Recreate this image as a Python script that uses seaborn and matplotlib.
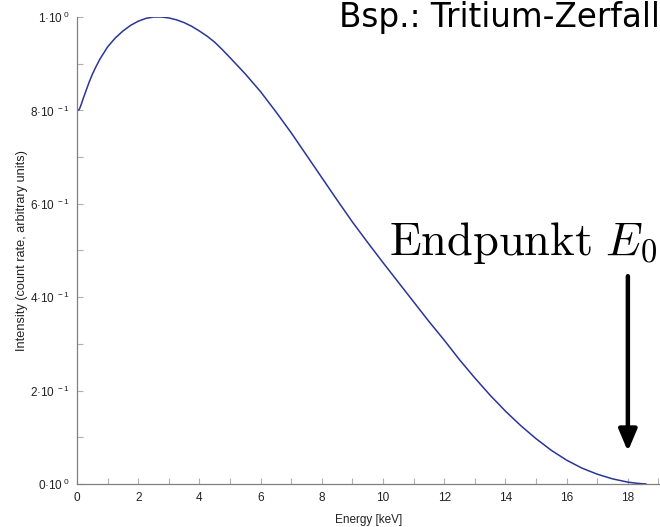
import matplotlib
matplotlib.use("Agg")
import matplotlib.pyplot as plt
import seaborn as sns
import pandas as pd
from matplotlib.ticker import MultipleLocator, FixedLocator

energy_kev = [0.02, 0.06, 0.1, 0.15, 0.2, 0.3, 0.4, 0.5, 0.6, 0.75, 1.0, 1.25,
              1.5, 1.75, 2.0, 2.25, 2.5, 2.75, 3.0, 3.25, 3.5, 3.75, 4.0, 4.25,
              4.5, 4.75, 5.0, 5.5, 6.0, 6.5, 7.0, 7.5, 8.0, 8.5, 9.0, 9.5, 10.0,
              10.5, 11.0, 11.5, 12.0, 12.5, 13.0, 13.5, 14.0, 14.5, 15.0, 15.5,
              16.0, 16.5, 17.0, 17.5, 18.0, 18.3, 18.6]
intensity = [0.800, 0.801, 0.806, 0.815, 0.825, 0.843, 0.861, 0.877, 0.891, 0.910,
             0.936, 0.955, 0.970, 0.982, 0.991, 0.997, 1.000, 1.000, 0.998, 0.994,
             0.988, 0.980, 0.970, 0.959, 0.946, 0.930, 0.913, 0.878, 0.840, 0.797,
             0.752, 0.704, 0.656, 0.608, 0.561, 0.517, 0.474, 0.432, 0.390, 0.348,
             0.308, 0.266, 0.227, 0.190, 0.156, 0.125, 0.097, 0.072, 0.051, 0.034,
             0.021, 0.011, 0.004, 0.0015, 0.0]
ytick_values = [0.0, 0.2, 0.4, 0.6, 0.8, 1.0]
ytick_labels = [r"0·10$^{\ 0}$", r"2·10$^{\ -1}$", r"4·10$^{\ -1}$",
                r"6·10$^{\ -1}$", r"8·10$^{\ -1}$", r"1·10$^{\ 0}$"]
title_text = "Bsp.: Tritium-Zerfall"
annot_text = r"$\mathrm{Endpunkt}\ E_0$"
endpoint = 18.0

sns.set_style("white")
plt.rcParams["font.family"] = ["Liberation Sans", "DejaVu Sans"]
plt.rcParams["mathtext.fontset"] = "custom"
plt.rcParams["mathtext.rm"] = "Liberation Sans"
plt.rcParams["mathtext.it"] = "Liberation Sans:italic"

df = pd.DataFrame({"Energy": energy_kev, "Intensity": intensity})

fig = plt.figure(figsize=(6.6, 5.27), dpi=100)
ax = fig.add_axes([77/660, 43/527, 1 - 77/660, 467/527])
sns.lineplot(data=df, x="Energy", y="Intensity", ax=ax, color="#2a3598", linewidth=1.1)

ax.set_xlim(0, 19.05)
ax.set_ylim(0, 1.0)
ax.xaxis.set_major_locator(MultipleLocator(2))
ax.xaxis.set_minor_locator(MultipleLocator(1))
ax.yaxis.set_major_locator(FixedLocator(ytick_values))
ax.yaxis.set_minor_locator(MultipleLocator(0.1))
ax.set_yticklabels(ytick_labels)

for s in ["top", "right"]:
    ax.spines[s].set_visible(False)
for s in ["left", "bottom"]:
    ax.spines[s].set_color("#808080")
    ax.spines[s].set_linewidth(0.9)
ax.tick_params(which="both", direction="in", color="#b0b0b0", length=4, width=0.8,
               labelsize=8.5, labelcolor="#222222", bottom=True, left=True)
ax.tick_params(axis="y", which="both", pad=5)
ax.tick_params(axis="x", which="both", pad=6)
ax.set_xlabel("Energy [keV]", fontsize=8.5, color="#222222", labelpad=7)
ax.set_ylabel("Intensity (count rate, arbitrary units)", fontsize=9.2, color="#222222", labelpad=2)

fig.text(1.0, 1.0 - 1/527, title_text, ha="right", va="top", fontsize=23.5,
         color="black", family="DejaVu Sans")
fig.text(657/660, 1 - 255/527, annot_text, ha="right", va="baseline", fontsize=33.5,
         color="black", math_fontfamily="cm")
ax.annotate("", xy=(endpoint, 0.07), xytext=(endpoint, 0.445),
            arrowprops=dict(arrowstyle="-|>,head_length=1.3,head_width=0.55",
                            color="black", lw=3.2, shrinkA=0, shrinkB=0))

fig.savefig("out.png", dpi=100)
